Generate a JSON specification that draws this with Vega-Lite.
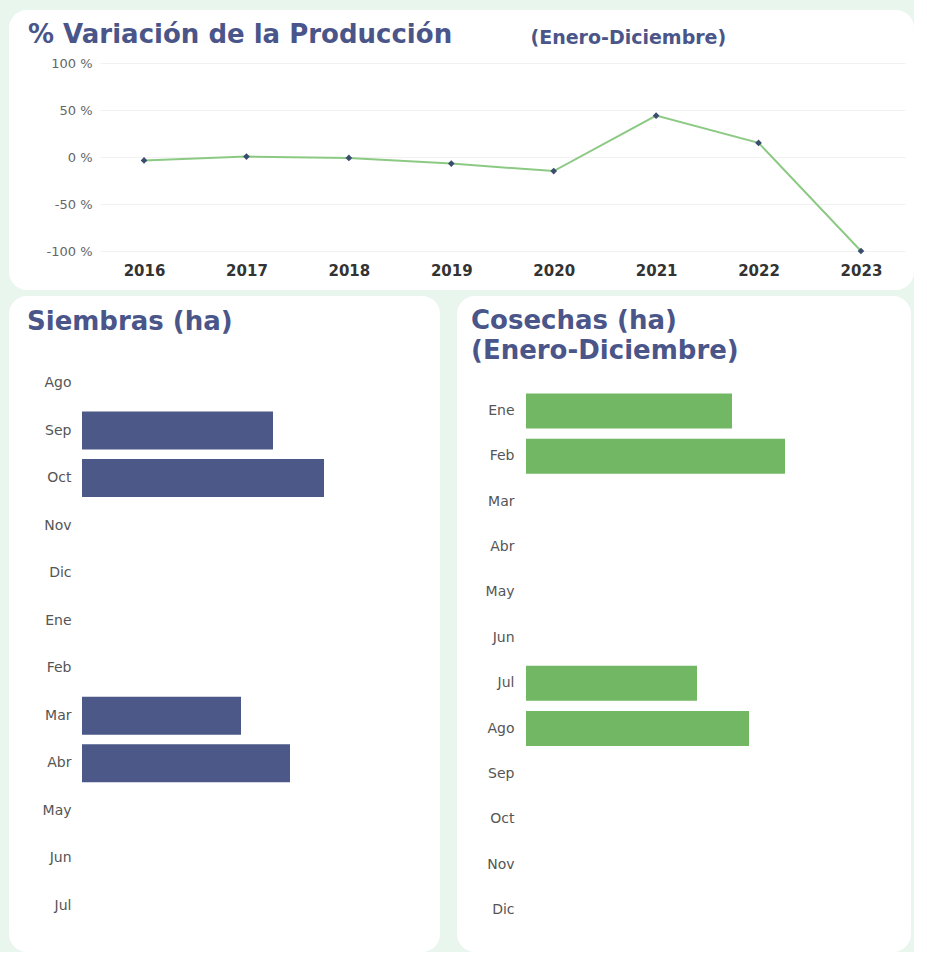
{
  "$schema": "https://vega.github.io/schema/vega-lite/v6.json",
  "background": "#e8f6ee",
  "padding": {"left": 9, "top": 10, "right": 0, "bottom": 0},
  "bounds": "flush",
  "spacing": 6,
  "config": {
    "font": "DejaVu Sans",
    "view": {"fill": "white", "stroke": null, "cornerRadius": 18},
    "title": {"font": "DejaVu Sans", "fontWeight": "bold", "color": "#4a5589", "anchor": "start", "frame": "group", "fontSize": 26},
    "axis": {"labelFont": "DejaVu Sans", "domain": false, "ticks": false}
  },
  "datasets": {
    "variacion": [
      {"anio": "2016", "variacion": -3.7},
      {"anio": "2017", "variacion": 0.5},
      {"anio": "2018", "variacion": -1},
      {"anio": "2019", "variacion": -7},
      {"anio": "2020", "variacion": -15},
      {"anio": "2021", "variacion": 44},
      {"anio": "2022", "variacion": 15},
      {"anio": "2023", "variacion": -100}
    ],
    "siembras": [
      {"mes": "Ago", "ha": 0},
      {"mes": "Sep", "ha": 191},
      {"mes": "Oct", "ha": 242},
      {"mes": "Nov", "ha": 0},
      {"mes": "Dic", "ha": 0},
      {"mes": "Ene", "ha": 0},
      {"mes": "Feb", "ha": 0},
      {"mes": "Mar", "ha": 159},
      {"mes": "Abr", "ha": 208},
      {"mes": "May", "ha": 0},
      {"mes": "Jun", "ha": 0},
      {"mes": "Jul", "ha": 0}
    ],
    "cosechas": [
      {"mes": "Ene", "ha": 206},
      {"mes": "Feb", "ha": 259},
      {"mes": "Mar", "ha": 0},
      {"mes": "Abr", "ha": 0},
      {"mes": "May", "ha": 0},
      {"mes": "Jun", "ha": 0},
      {"mes": "Jul", "ha": 171},
      {"mes": "Ago", "ha": 223},
      {"mes": "Sep", "ha": 0},
      {"mes": "Oct", "ha": 0},
      {"mes": "Nov", "ha": 0},
      {"mes": "Dic", "ha": 0}
    ]
  },
  "vconcat": [
    {
      "width": 905,
      "height": 280,
      "data": {"name": "variacion"},
      "title": {"text": "% Variación de la Producción", "dx": 19, "offset": -59, "baseline": "alphabetic"},
      "encoding": {
        "x": {
          "field": "anio", "type": "ordinal",
          "scale": {"type": "point", "range": [91, 896], "padding": 0.43},
          "axis": {"title": null, "labelAngle": 0, "offset": -30, "labelPadding": 3, "labelFontSize": 15, "labelFontWeight": "bold", "labelColor": "#333333", "grid": false}
        },
        "y": {
          "field": "variacion", "type": "quantitative",
          "scale": {"domain": [-100, 100], "range": [241, 53]},
          "axis": {
            "values": [-100, -50, 0, 50, 100],
            "labelExpr": "datum.value + ' %'",
            "offset": -86, "labelPadding": 3, "labelFontSize": 13, "labelColor": "#666666",
            "grid": true, "gridColor": "#f1f1f1",
            "title": "(Enero-Diciembre)", "titleAngle": 0, "titleAlign": "left", "titleBaseline": "middle",
            "titleX": 435, "titleY": 27, "titleFontSize": 19, "titleFontWeight": "bold", "titleColor": "#4a5589", "titleFont": "DejaVu Sans"
          }
        }
      },
      "layer": [
        {"mark": {"type": "line", "color": "#8cca84", "strokeWidth": 2}},
        {"mark": {"type": "point", "shape": "diamond", "filled": true, "color": "#3b4d6e", "size": 45, "opacity": 1}}
      ]
    },
    {
      "hconcat": [
        {
          "width": 431,
          "height": 656,
          "data": {"name": "siembras"},
          "title": {"text": "Siembras (ha)", "dx": 18, "offset": -60, "baseline": "alphabetic"},
          "mark": {"type": "bar", "color": "#4b5888"},
          "encoding": {
            "y": {
              "field": "mes", "type": "nominal", "sort": null,
              "scale": {"range": [68, 629], "paddingInner": 0.2, "paddingOuter": 0},
              "axis": {"title": null, "offset": -70, "labelPadding": 8, "labelFontSize": 14, "labelColor": "#555555", "grid": false}
            },
            "x": {
              "field": "ha", "type": "quantitative",
              "scale": {"domain": [0, 358], "range": [73, 431]},
              "axis": null
            }
          }
        },
        {
          "width": 454,
          "height": 656,
          "data": {"name": "cosechas"},
          "title": {"text": ["Cosechas (ha)", "(Enero-Diciembre)"], "dx": 14, "offset": -89, "baseline": "alphabetic", "lineHeight": 30},
          "mark": {"type": "bar", "color": "#72b763"},
          "encoding": {
            "y": {
              "field": "mes", "type": "nominal", "sort": null,
              "scale": {"range": [97.5, 631.5], "paddingInner": 0.23, "paddingOuter": 0},
              "axis": {"title": null, "offset": -65, "labelPadding": 8, "labelFontSize": 14, "labelColor": "#555555", "grid": false}
            },
            "x": {
              "field": "ha", "type": "quantitative",
              "scale": {"domain": [0, 385], "range": [69, 454]},
              "axis": null
            }
          }
        }
      ],
      "spacing": 17
    }
  ]
}
